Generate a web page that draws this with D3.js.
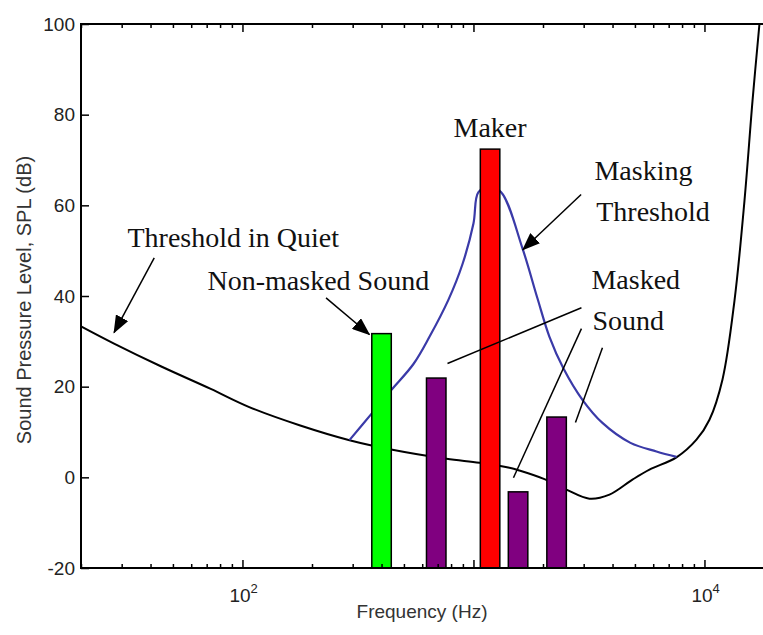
<!DOCTYPE html>
<html>
<head>
<meta charset="utf-8">
<script src="https://cdn.jsdelivr.net/npm/d3@7"></script>
<style>
  body { margin: 0; background: #fff; }
  svg { display: block; }
</style>
</head>
<body>
<div id="chart"></div>
<script>
// threshold in quiet (Hz / dB)
const quietFreq = [20, 27.8, 44.3, 72.9, 107, 176.5, 290.5, 446, 764, 1062, 1432, 1581, 2029, 2527, 3177, 3880, 4879, 5780, 7565, 9234, 10510, 11970, 13490, 14900, 16140, 17300];
const quietLevel = [33.3, 29.5, 24.5, 19.5, 15.5, 11.5, 8.2, 6.1, 4.1, 3.2, 2.1, 1.5, -0.4, -2.7, -4.7, -3.8, -0.5, 1.7, 4.4, 8.3, 12.7, 21.6, 39, 61, 83, 100];

// masking threshold around the masker
const maskFreq = [290.5, 361.6, 441.6, 549.9, 645, 779.6, 896, 1000, 1051, 1177, 1318, 1630, 1892, 2133, 2453, 2964, 3617, 4783, 6197, 7565];
const maskLevel = [8.2, 14, 19.3, 25, 31, 39.2, 47, 56, 62.9, 64, 62.9, 50.5, 39.5, 31, 24, 17.1, 12, 7.6, 5.7, 4.5];

// tones
const barFreq = [400, 690, 1180, 1560, 2290];
const barLevel = [31.7, 21.9, 72.4, -3.2, 13.3];
const barKind = ["nonmasked", "masked", "masker", "masked", "masked"];

const yTicks = [-20, 0, 20, 40, 60, 80, 100];
const xMajor = [100, 1000, 10000];
const xLabelled = [100, 10000];

const W = 763, H = 635;
const margin = { top: 24, right: -11, bottom: 67, left: 81 };

const svg = d3.select("#chart").append("svg")
  .attr("width", W).attr("height", H);

const x = d3.scaleLog().domain([20, 20000]).range([margin.left, W - margin.right]);
const y = d3.scaleLinear().domain([-20, 100]).range([H - margin.bottom, margin.top]);

const colors = { nonmasked: "#00ff00", masked: "#800080", masker: "#ff0000" };
const sans = "'Liberation Sans', Arial, sans-serif";

svg.append("clipPath").attr("id", "plot")
  .append("rect")
  .attr("x", x.range()[0]).attr("y", y.range()[1])
  .attr("width", x.range()[1] - x.range()[0])
  .attr("height", y.range()[0] - y.range()[1]);

svg.append("defs").append("marker")
  .attr("id", "head")
  .attr("viewBox", "0 0 18 14")
  .attr("refX", 17).attr("refY", 7)
  .attr("markerUnits", "userSpaceOnUse")
  .attr("markerWidth", 18).attr("markerHeight", 14)
  .attr("orient", "auto")
  .append("path").attr("d", "M0,0L18,7L0,14z").attr("fill", "#000");

// curves
const line = d3.line().x(d => x(d[0])).y(d => y(d[1])).curve(d3.curveCatmullRom.alpha(0.5));

svg.append("path")
  .datum(d3.zip(quietFreq, quietLevel))
  .attr("clip-path", "url(#plot)")
  .attr("d", line)
  .attr("fill", "none").attr("stroke", "#000").attr("stroke-width", 2);

svg.append("path")
  .datum(d3.zip(maskFreq, maskLevel))
  .attr("clip-path", "url(#plot)")
  .attr("d", line)
  .attr("fill", "none").attr("stroke", "#3a3aa8").attr("stroke-width", 2.2);

// bars, constant pixel width on the log axis
const barW = 19.5;
svg.selectAll(".bar")
  .data(d3.zip(barFreq, barLevel, barKind))
  .enter().append("rect")
  .attr("class", "bar")
  .attr("x", d => x(d[0]) - barW / 2)
  .attr("y", d => y(d[1]))
  .attr("width", barW)
  .attr("height", d => y(-20) - y(d[1]))
  .attr("fill", d => colors[d[2]])
  .attr("stroke", "#000").attr("stroke-width", 1.5);

// axes (box with inward ticks)
const minor = x.ticks().filter(v => !xMajor.includes(v));
const y0 = y.range()[0], y1 = y.range()[1];

svg.append("g").attr("transform", `translate(0,${y0})`)
  .call(d3.axisBottom(x).tickValues(minor).tickSize(-4).tickFormat(""));
svg.append("g").attr("transform", `translate(0,${y0})`)
  .call(d3.axisBottom(x).tickValues(xMajor).tickSize(-8).tickFormat(""));
svg.append("g").attr("transform", `translate(0,${y1})`)
  .call(d3.axisTop(x).tickValues(minor).tickSize(-4).tickFormat(""));
svg.append("g").attr("transform", `translate(0,${y1})`)
  .call(d3.axisTop(x).tickValues(xMajor).tickSize(-8).tickFormat(""));

svg.append("g").attr("transform", `translate(${x.range()[0]},0)`)
  .call(d3.axisLeft(y).tickValues(yTicks).tickSize(-8).tickPadding(6).tickFormat(d => String(d)))
  .call(g => g.selectAll("text")
    .style("font-family", sans)
    .style("font-size", "19px").attr("fill", "#222"));

svg.selectAll(".domain").remove();
svg.selectAll(".tick line").attr("stroke", "#000").attr("stroke-width", 1.5);

// frame
svg.append("path")
  .attr("d", `M${x.range()[1]},${y1}H${x.range()[0]}V${y0}H${x.range()[1]}`)
  .attr("fill", "none").attr("stroke", "#000").attr("stroke-width", 2);

// decade labels
const xl = svg.append("g").style("font-family", sans).attr("fill", "#222");
xLabelled.forEach(v => {
  const t = xl.append("text")
    .attr("x", x(v) - 13).attr("y", y0 + 34)
    .style("font-size", "19px");
  t.append("tspan").text("10");
  t.append("tspan").attr("dy", -9).style("font-size", "13px").text(Math.log10(v));
});

// axis titles
svg.append("text")
  .attr("x", 422).attr("y", 618)
  .attr("text-anchor", "middle")
  .style("font-family", sans)
  .style("font-size", "19px").attr("fill", "#333")
  .text("Frequency (Hz)");

svg.append("text")
  .attr("transform", `translate(31,300) rotate(-90)`)
  .attr("text-anchor", "middle")
  .style("font-family", sans)
  .style("font-size", "20px").attr("fill", "#333")
  .text("Sound Pressure Level, SPL (dB)");

// annotations, anchored in data coordinates
const notes = [
  { text: "Threshold in Quiet", f: 31.8, db: 50.7, anchor: "start" },
  { text: "Non-masked Sound", f: 70.6, db: 41.4, anchor: "start" },
  { text: "Maker", f: 1180, db: 75.1, anchor: "middle" },
  { text: "Masking", f: 3340, db: 65.6, anchor: "start" },
  { text: "Threshold", f: 3400, db: 56.5, anchor: "start" },
  { text: "Masked", f: 3242, db: 41.6, anchor: "start" },
  { text: "Sound", f: 3275, db: 32.6, anchor: "start" }
];

svg.append("g")
  .style("font-family", "'Liberation Serif', 'Times New Roman', serif")
  .style("font-size", "28px")
  .selectAll("text").data(notes).enter().append("text")
  .attr("x", d => x(d.f)).attr("y", d => y(d.db))
  .attr("text-anchor", d => d.anchor)
  .attr("fill", "#111")
  .text(d => d.text);

const pointers = [
  { from: [41.5, 48.4], to: [27.8, 31.9], head: true },
  { from: [230, 39.6], to: [354.6, 31.5], head: true },
  { from: [2925, 62.4], to: [1635, 50.2], head: true },
  { from: [772, 25.1], to: [2934, 37.4], head: false },
  { from: [2934, 32.8], to: [1490, -0.1], head: false },
  { from: [3617, 28.6], to: [2764, 12.1], head: false }
];

svg.append("g").selectAll("line").data(pointers).enter().append("line")
  .attr("x1", d => x(d.from[0])).attr("y1", d => y(d.from[1]))
  .attr("x2", d => x(d.to[0])).attr("y2", d => y(d.to[1]))
  .attr("stroke", "#000").attr("stroke-width", 1.5)
  .attr("marker-end", d => d.head ? "url(#head)" : null);
</script>
</body>
</html>
